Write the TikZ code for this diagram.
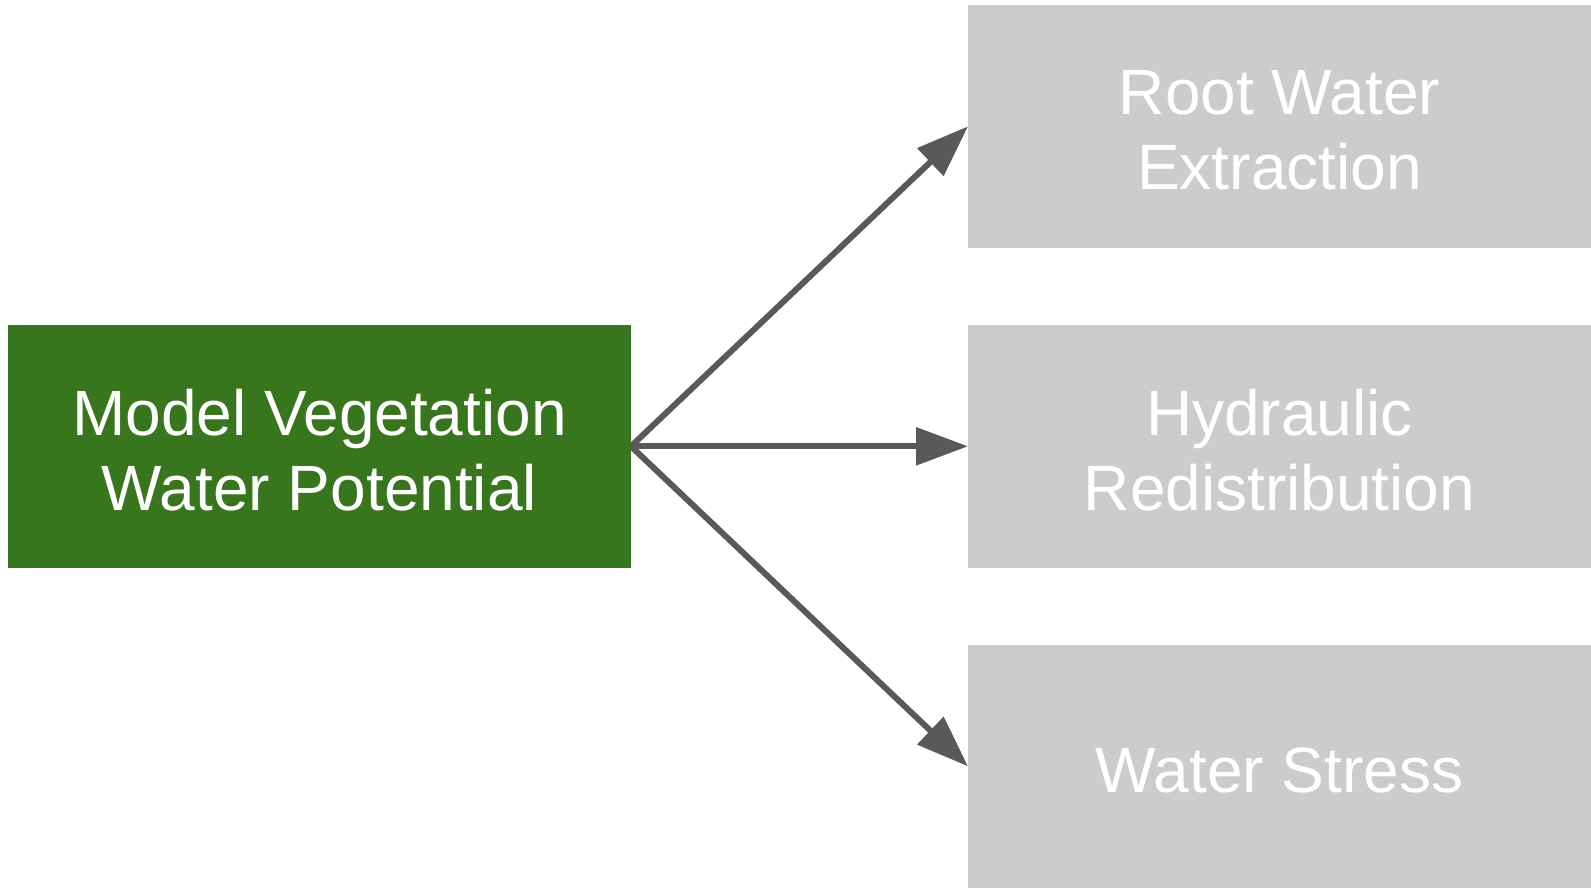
\documentclass[tikz,border=0pt]{standalone}
\usepackage{fontspec}
\setmainfont{Liberation Sans}
\usetikzlibrary{arrows.meta}
\definecolor{dgreen}{HTML}{38761D}
\definecolor{lgray}{HTML}{CCCCCC}
\definecolor{agray}{HTML}{595959}
\begin{document}
\begin{tikzpicture}[x=0.5pt,y=-0.5pt,
  box/.style={rectangle, inner sep=0pt, outer sep=0pt, minimum width=311.5pt, minimum height=121.35pt},
  lbl/.style={text=white, align=center, yshift=-2pt, font=\fontsize{32}{37.5}\selectfont},
  arr/.style={draw=agray, line width=3pt, -{Triangle[length=26pt,width=18.5pt]}}]
\useasboundingbox (0,0) rectangle (1591,888);
\node[box, fill=dgreen, label={[lbl]center:{Model Vegetation\\Water Potential}}] (g) at (319.5,446.3) {};
\node[box, fill=lgray, label={[lbl]center:{Root Water\\Extraction}}] (t) at (1279.5,126.35) {};
\node[box, fill=lgray, label={[lbl]center:{Hydraulic\\Redistribution}}] (m) at (1279.5,446.3) {};
\node[box, fill=lgray, label={[lbl]center:{Water Stress}}] (b) at (1279.5,766.35) {};
\draw[arr] (g.east) -- (t.west);
\draw[arr] (g.east) -- (m.west);
\draw[arr] (g.east) -- (b.west);
\end{tikzpicture}
\end{document}
